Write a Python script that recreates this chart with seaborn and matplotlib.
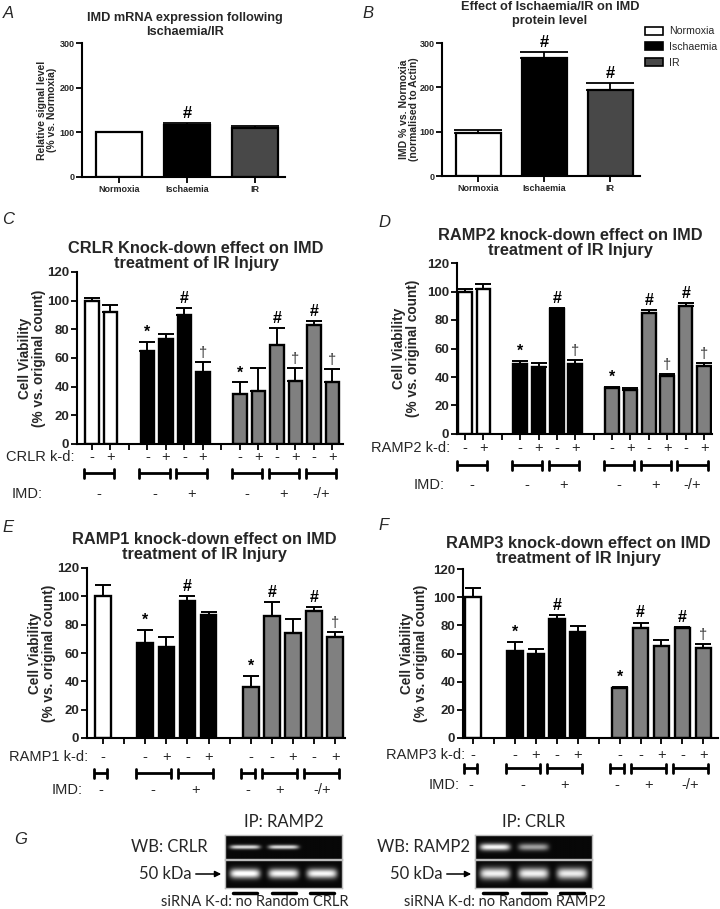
import numpy as np
import pandas as pd
import matplotlib
matplotlib.use("Agg")
import matplotlib.pyplot as plt
import seaborn as sns
from matplotlib.patches import Patch, FancyArrowPatch
from matplotlib.lines import Line2D
from matplotlib.transforms import blended_transform_factory

sns.set_theme(style="ticks")
plt.rcParams['font.family'] = ['Liberation Sans', 'DejaVu Sans']

# ---- data: panels A / B
ab_conditions = ["Normoxia", "Ischaemia", "IR"]
a_values = [100, 117, 109]
a_errors = [0, 4, 6]
a_marks = ["", "#", ""]
b_values = [98, 266, 193]
b_errors = [6, 13, 17]
b_marks = ["", "#", "#"]

# ---- data: panel C (CRLR)
c_group = ["Normoxia"] * 2 + ["Ischaemia"] * 4 + ["IR"] * 6
c_kd = ["-", "+", "-", "+", "-", "+", "-", "+", "-", "+", "-", "+"]
c_imd = ["-", "-", "-", "-", "+", "+", "-", "-", "+", "+", "-/+", "-/+"]
c_values = [100, 92, 65, 73, 90, 50, 35, 37, 69, 44, 83, 43]
c_errors = [2, 5, 6, 4, 5, 7, 8, 16, 12, 9, 2.5, 9]
c_marks = ["", "", "*", "", "#", "†", "*", "", "#", "†", "#", "†"]

# ---- data: panel D (RAMP2)
d_group = c_group
d_kd = c_kd
d_imd = c_imd
d_values = [100, 102, 49, 47, 88, 49, 32, 31, 85, 40.5, 90, 48]
d_errors = [1.5, 3, 2.5, 3, 0.5, 3, 1, 1.5, 2, 1.5, 2, 1.5]
d_marks = ["", "", "*", "", "#", "†", "*", "", "#", "†", "#", "†"]

# ---- data: panel E (RAMP1)
e_group = ["Normoxia"] + ["Ischaemia"] * 4 + ["IR"] * 5
e_kd = ["-", "-", "+", "-", "+", "-", "-", "+", "-", "+"]
e_imd = ["-", "-", "-", "+", "+", "-", "+", "+", "-/+", "-/+"]
e_values = [100, 67, 64, 97, 87, 36, 86, 74, 90, 71]
e_errors = [8, 9, 7, 3.5, 2, 8, 10, 10, 2.5, 3.5]
e_marks = ["", "*", "", "#", "", "*", "#", "", "#", "†"]

# ---- data: panel F (RAMP3)
f_group = e_group
f_kd = e_kd
f_imd = e_imd
f_values = [100, 62, 60, 84.5, 75, 35.5, 78, 65, 78, 64]
f_errors = [6.5, 6, 3.5, 3, 4.5, 1, 4, 4.5, 0.7, 3]
f_marks = ["", "*", "", "#", "", "*", "#", "", "#", "†"]

# ---- data: panel G (blot band intensities, lanes: no / Random / target)
g_lanes_left = ["no", "Random", "CRLR"]
g_lanes_right = ["no", "Random", "RAMP2"]
g_left_top = [0.85, 0.85, 0.0]
g_left_bottom = [1.0, 0.95, 0.95]
g_right_top = [0.95, 0.6, 0.0]
g_right_bottom = [0.92, 0.92, 0.9]

W, H = 720, 909
fig = plt.figure(figsize=(W / 100, H / 100), dpi=100)


def fy(py):
    return 1 - py / H


def px_axes(l, t, r, b):
    return fig.add_axes([l / W, 1 - b / H, (r - l) / W, (b - t) / H])


def style_axes(ax, size):
    sns.despine(ax=ax)
    for s in ["left", "bottom"]:
        ax.spines[s].set_linewidth(1.5)
        ax.spines[s].set_color("black")
    ax.tick_params(width=1.3, length=4, direction="out", color="black",
                   labelsize=size, pad=1.5)
    for t in ax.get_yticklabels() + ax.get_xticklabels():
        t.set_fontweight("bold")
    ax.set_xlabel("")
    ax.set_ylabel("")


def add_marks(ax, xs, vals, errs, marks, size):
    for x, v, e, m in zip(xs, vals, errs, marks):
        if not m:
            continue
        bold = "normal" if m == "†" else "bold"
        col = "#333333" if m == "†" else "black"
        sz = size - 1 if m == "†" else size
        ax.annotate(m, (x, v + e), xytext=(0, 1.5), textcoords="offset points",
                    ha="center", va="bottom", fontsize=sz, fontweight=bold,
                    color=col)


# ---------------- panels A and B
ab_colors = {"Normoxia": "white", "Ischaemia": "black", "IR": "#484848"}
for box, vals, errs, marks, title, ylab, tx, ty, lx, letter, letx in [
    ((82, 43, 285, 177), a_values, a_errors, a_marks,
     "IMD mRNA expression following\nIschaemia/IR",
     "Relative signal level\n(% vs. Normoxia)", 185, 25, 47, "A", 8),
    ((442, 43, 640, 176), b_values, b_errors, b_marks,
     "Effect of Ischaemia/IR on IMD\nprotein level",
     "IMD % vs. Normoxia\n(normalised to Actin)", 550, 14, 409, "B", 368),
]:
    ax = px_axes(*box)
    df = pd.DataFrame({"cond": ab_conditions, "val": vals})
    sns.barplot(data=df, x="cond", y="val", hue="cond", palette=ab_colors,
                order=ab_conditions, width=0.68, edgecolor="black",
                linewidth=1.6, errorbar=None, legend=False, saturation=1,
                ax=ax)
    xs = np.arange(len(vals))
    ax.errorbar(xs, vals, yerr=[np.zeros(len(errs)), errs], fmt="none",
                ecolor="black", elinewidth=1.3, capsize=17, capthick=1.3)
    add_marks(ax, xs, vals, errs, marks, 12)
    ax.set_ylim(0, 300)
    ax.set_yticks([0, 100, 200, 300])
    ax.set_xlim(-0.55, 2.45)
    style_axes(ax, 6.5)
    fig.text(tx / W, fy(ty), title, ha="center", va="center", fontsize=9.2,
             fontweight="bold", linespacing=1.15)
    fig.text(lx / W, fy((box[1] + box[3]) / 2), ylab, rotation=90,
             ha="center", va="center", fontsize=7.5, fontweight="bold",
             linespacing=1.1)
    fig.text(letx / W, fy(13), letter, ha="center", va="center",
             fontsize=12, style="italic")

fig.legend(handles=[Patch(facecolor=ab_colors[c], edgecolor="black",
                          linewidth=1.2) for c in ab_conditions],
           labels=ab_conditions, loc="upper left",
           bbox_to_anchor=(641 / W, fy(22)), frameon=False, fontsize=7.6,
           handlelength=1.7, handleheight=0.8, labelspacing=0.55,
           handletextpad=0.6, borderaxespad=0)

# ---------------- panels C-F
kd_colors = {"Normoxia": "white", "Ischaemia": "black", "IR": "#808080"}


def positions(groups):
    pos, p, prev = [], 0, None
    for g in groups:
        if prev is not None and g != prev:
            p += 1
        pos.append(p)
        p += 1
        prev = g
    return pos


panels = [
    dict(box=(77, 272, 343, 444), xlim=(-0.81, 13.57), group=c_group, kd=c_kd,
         imd=c_imd, vals=c_values, errs=c_errors, marks=c_marks,
         title="CRLR Knock-down effect on IMD\ntreatment of IR Injury",
         tx=196, ty=256, ylx=32, kdname="CRLR k-d:", kdx=75, imdx=43,
         kdy=457, bry=473, imdy=494, letter="C", lx=8, ly=219),
    dict(box=(457, 263, 712, 434), xlim=(-0.43, 13.43), group=d_group,
         kd=d_kd, imd=d_imd, vals=d_values, errs=d_errors, marks=d_marks,
         title="RAMP2 knock-down effect on IMD\ntreatment of IR Injury",
         tx=570, ty=243, ylx=406, kdname="RAMP2 k-d:", kdx=450, imdx=445,
         kdy=448, bry=465, imdy=485, letter="D", lx=384, ly=222),
    dict(box=(87, 568, 345, 738), xlim=(-0.76, 11.47), group=e_group,
         kd=e_kd, imd=e_imd, vals=e_values, errs=e_errors, marks=e_marks,
         title="RAMP1 knock-down effect on IMD\ntreatment of IR Injury",
         tx=204, ty=547, ylx=42, kdname="RAMP1 k-d:", kdx=88, imdx=83,
         kdy=757, bry=773, imdy=790, letter="E", lx=8, ly=528),
    dict(box=(463, 569, 718, 738), xlim=(-0.48, 11.7), group=f_group,
         kd=f_kd, imd=f_imd, vals=f_values, errs=f_errors, marks=f_marks,
         title="RAMP3 knock-down effect on IMD\ntreatment of IR Injury",
         tx=578, ty=551, ylx=414, kdname="RAMP3 k-d:", kdx=465, imdx=460,
         kdy=755, bry=768, imdy=785, letter="F", lx=384, ly=525),
]

for P in panels:
    ax = px_axes(*P["box"])
    pos = positions(P["group"])
    df = pd.DataFrame({"pos": pos, "val": P["vals"], "group": P["group"]})
    sns.barplot(data=df, x="pos", y="val", hue="group", palette=kd_colors,
                native_scale=True, width=0.74, edgecolor="black",
                linewidth=1.7, errorbar=None, legend=False, dodge=False,
                saturation=1, ax=ax)
    ax.errorbar(pos, P["vals"], yerr=[np.zeros(len(pos)), P["errs"]],
                fmt="none", ecolor="black", elinewidth=1.4, capsize=5.5,
                capthick=1.4)
    add_marks(ax, pos, P["vals"], P["errs"], P["marks"], 11.5)
    ax.set_ylim(0, 120)
    ax.set_yticks(range(0, 121, 20))
    ax.set_xlim(*P["xlim"])
    ax.set_xticks(range(0, pos[-1] + 1))
    style_axes(ax, 9.5)
    ax.set_xticklabels([])

    tr = blended_transform_factory(ax.transData, fig.transFigure)
    for x, k in zip(pos, P["kd"]):
        ax.text(x, fy(P["kdy"]), k, transform=tr, ha="center", va="center",
                fontsize=10.5)
    # brackets over consecutive bars sharing group and IMD state
    runs = []
    for i, x in enumerate(pos):
        key = (P["group"][i], P["imd"][i])
        if runs and runs[-1][0] == key:
            runs[-1][2] = x
        else:
            runs.append([key, x, x])
    dy = 4.5 / H
    for (g, im), x0, x1 in runs:
        a, b = x0 - 0.45, x1 + 0.2
        yb = fy(P["bry"])
        ax.plot([a, b], [yb, yb], transform=tr, color="black", lw=2,
                clip_on=False, solid_capstyle="butt")
        for xx in (a, b):
            ax.plot([xx, xx], [yb - dy, yb + dy], transform=tr, color="black",
                    lw=2, clip_on=False)
        ax.text((a + b) / 2, fy(P["imdy"]), im, transform=tr, ha="center",
                va="center", fontsize=10.5)
    fig.text(P["kdx"] / W, fy(P["kdy"]), P["kdname"], ha="right",
             va="center", fontsize=10.5)
    fig.text(P["imdx"] / W, fy(P["imdy"]), "IMD:", ha="right", va="center",
             fontsize=10.5)
    fig.text(P["tx"] / W, fy(P["ty"]), P["title"], ha="center", va="center",
             fontsize=11.8, fontweight="bold", linespacing=1.0)
    fig.text(P["ylx"] / W, fy((P["box"][1] + P["box"][3]) / 2),
             "Cell Viability\n(% vs. original count)", rotation=90,
             ha="center", va="center", fontsize=9.8, fontweight="bold",
             linespacing=1.05)
    fig.text(P["lx"] / W, fy(P["ly"]), P["letter"], ha="center",
             va="center", fontsize=12, style="italic")

# ---------------- panel G: blots
lane_x = [0.17, 0.5, 0.83]


def blot(ax, intens, sigma):
    xx = np.linspace(0, 1, 240)
    yy = np.linspace(0, 1, 60)[:, None]
    img = np.full((60, 240), 0.03)
    for c, a in zip(lane_x, intens):
        px = np.exp(-((xx - c) / 0.13) ** 6)
        py = np.exp(-((yy - 0.5) / sigma) ** 2)
        img += a * px[None, :] * py
    ax.imshow(np.clip(img, 0, 1), cmap="gray", vmin=0, vmax=1,
              extent=[0, 1, 0, 1], aspect="auto", origin="lower",
              interpolation="bilinear")
    ax.set_xticks([])
    ax.set_yticks([])
    for s in ax.spines.values():
        s.set_color("#bbbbbb")
        s.set_linewidth(1)


blots = [
    (225, 342, g_left_top, g_left_bottom, 0.09, 0.17, "IP: RAMP2", "WB: CRLR",
     g_lanes_left, 208, 192),
    (475, 592, g_right_top, g_right_bottom, 0.15, 0.2, "IP: CRLR", "WB: RAMP2",
     g_lanes_right, 470, 443),
]
gfont = ["Lato", "DejaVu Sans"]
for l, r, top, bot, s1, s2, ip, wb, lanes, wbx, kdx in blots:
    a1 = px_axes(l, 835, r, 859)
    blot(a1, top, s1)
    a2 = px_axes(l, 860, r, 888)
    blot(a2, bot, s2)
    fig.text((l + r) / 2 / W, fy(822), ip, ha="center", va="center",
             fontsize=12, family=gfont)
    fig.text(wbx / W, fy(847), wb, ha="right", va="center", fontsize=12,
             family=gfont)
    fig.text(kdx / W, fy(874), "50 kDa", ha="right", va="center",
             fontsize=12, family=gfont)
    fig.add_artist(FancyArrowPatch(
        ((kdx + 1) / W, fy(874)), ((l - 1) / W, fy(874)),
        transform=fig.transFigure, arrowstyle="-|>", mutation_scale=9,
        color="black", lw=1.1))
    for c in lane_x:
        cx = l + c * (r - l)
        fig.add_artist(Line2D([(cx - 12) / W, (cx + 12) / W], [fy(893)] * 2,
                              color="black", lw=2.5))
    fig.text((l + r) / 2 / W - 0.04, fy(902),
             "siRNA K-d: " + " ".join(lanes), ha="center", va="center",
             fontsize=10.5, family=gfont)

fig.text(21 / W, fy(840), "G", ha="center", va="center", fontsize=12,
         style="italic")

fig.savefig("out.png", dpi=100)
